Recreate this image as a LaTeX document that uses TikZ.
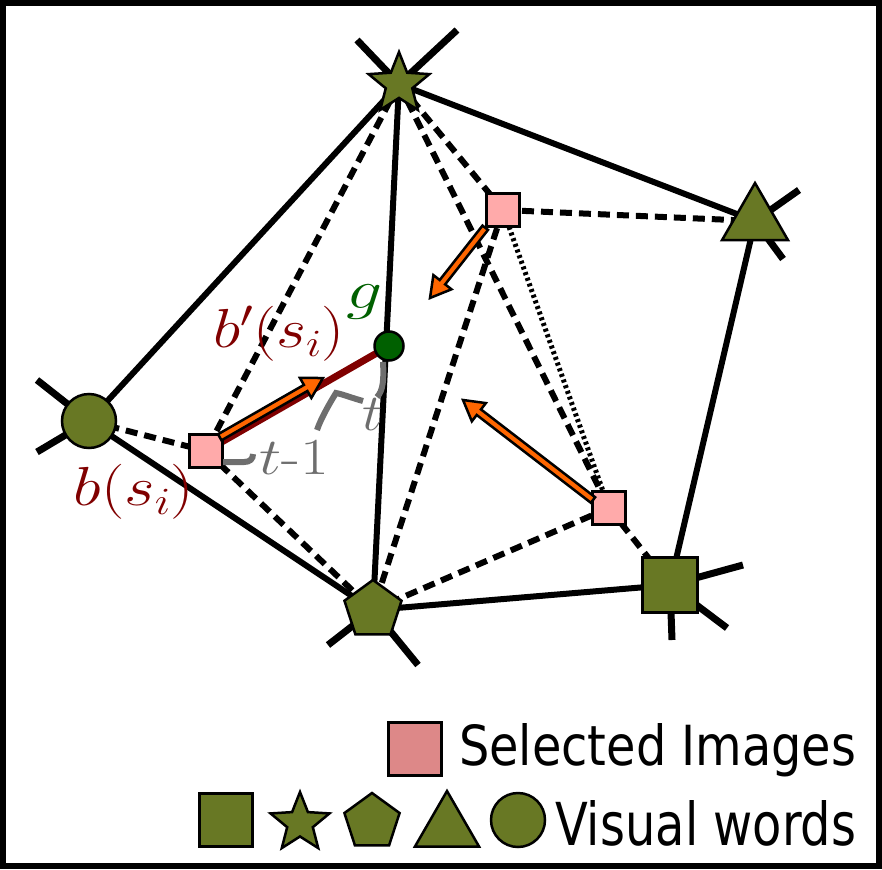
\RequirePackage{fix-cm}
\documentclass[tikz,border=0pt]{standalone}
\usepackage{fontspec}
\setsansfont{DejaVu Sans}
\usetikzlibrary{shapes.geometric,calc}
\definecolor{vwgreen}{RGB}{104,120,36}
\definecolor{imgpink}{RGB}{255,170,170}
\definecolor{legpink}{RGB}{221,136,136}
\definecolor{redlab}{RGB}{128,0,0}
\definecolor{glab}{RGB}{0,96,0}
\definecolor{arcgrey}{RGB}{110,110,110}
\definecolor{arrorange}{RGB}{255,102,0}
\pgfdeclarelayer{bg}
\pgfsetlayers{bg,main}
\tikzset{
  vw/.style={draw=black, fill=vwgreen, line width=2.5pt, inner sep=0pt},
  img/.style={draw=black, fill=imgpink, line width=2.5pt, minimum size=33pt, inner sep=0pt},
  solidedge/.style={line width=6pt},
  dashedge/.style={line width=6pt, dash pattern=on 12pt off 7pt},
  dotedge/.style={line width=5pt, dash pattern=on 3pt off 3pt},
  stubline/.style={line width=7pt},
  redline/.style={line width=7pt, draw=redlab},
  arcline/.style={line width=6pt, draw=arcgrey},
  orarr/.style={draw=black, fill=arrorange, line width=2.5pt, line join=miter},
  biglab/.style={inner sep=0pt, font=\fontsize{55}{58}\selectfont},
  tlab/.style={inner sep=0pt, font=\fontsize{52}{55}\selectfont},
}
\newcommand{\orarrow}[2]{%
  \draw[orarr] let \p1=($(#2)-(#1)$), \n1={atan2(\y1,\x1)}, \n2={veclen(\x1,\y1)-20} in
    ($(#1)+(\n1+90:3.5pt)$) -- ($(#1)+(\n1:\n2)+(\n1+90:3.5pt)$) --
    ($(#1)+(\n1:\n2)+(\n1+90:11.5pt)$) -- (#2) --
    ($(#1)+(\n1:\n2)+(\n1-90:11.5pt)$) -- ($(#1)+(\n1:\n2)+(\n1-90:3.5pt)$) --
    ($(#1)+(\n1-90:3.5pt)$) -- cycle;}
\begin{document}
\begin{tikzpicture}[x=1pt,y=-1pt]
\useasboundingbox (0,0) rectangle (882,869);
\draw[line width=6pt] (3,3) rectangle (879,866);

% visual words
\node[vw,star,star points=5,star point ratio=2.3,minimum size=64pt] (star) at (399,84) {};
\node[vw,circle,minimum size=54pt] (circ) at (89,421) {};
\node[vw,regular polygon,regular polygon sides=5,minimum size=60pt] (pent) at (373,610) {};
\node[vw,rectangle,minimum size=55pt] (sq) at (670,585) {};
\node[vw,regular polygon,regular polygon sides=3,minimum size=76pt] (tri) at (755,221) {};
% selected images
\node[img] (p1) at (206,451) {};
\node[img] (p2) at (503,210) {};
\node[img] (p3) at (609,508) {};
\node[draw=black, fill=glab, line width=2.5pt, circle, minimum size=29pt, inner sep=0pt] (g) at (389,346) {};

% stub ends
\coordinate (s1) at (357,40);
\coordinate (s2) at (457,30);
\coordinate (c1) at (37,380);
\coordinate (c2) at (37,452);
\coordinate (pe1) at (328,645);
\coordinate (pe2) at (418,665);
\coordinate (q1) at (743,565);
\coordinate (q2) at (727,628);
\coordinate (q3) at (672,640);
\coordinate (t1) at (799,190);
\coordinate (t2) at (783,259);

\begin{pgfonlayer}{bg}
  \draw[stubline] (star.center) -- (s1) (star.center) -- (s2)
    (circ.center) -- (c1) (circ.center) -- (c2)
    (pent.center) -- (pe1) (pent.center) -- (pe2)
    (sq.center) -- (q1) (sq.center) -- (q2) (sq.center) -- (q3)
    (tri.center) -- (t1) (tri.center) -- (t2);
  \draw[solidedge] (star.center) -- (circ.center);
  \draw[solidedge] (star.center) -- (tri.center);
  \draw[solidedge] (star.center) -- (pent.center);
  \draw[solidedge] (circ.center) -- (pent.center);
  \draw[solidedge] (pent.center) -- (sq.center);
  \draw[solidedge] (tri.center) -- (sq.center);
  \draw[dashedge] (star.center) -- (p1.center);
  \draw[dashedge] (star.center) -- (p2.center);
  \draw[dashedge] (star.center) -- (p3.center);
  \draw[dashedge] (p2.center) -- (tri.center);
  \draw[dashedge] (p2.center) -- (pent.center);
  \draw[dashedge] (p3.center) -- (pent.center);
  \draw[dashedge] (p3.center) -- (sq.center);
  \draw[dashedge] (circ.center) -- (p1.center);
  \draw[dashedge] (p1.center) -- (pent.center);
  \draw[dotedge] (p2.center) -- (p3.center);
  \draw[redline] (p1.center) -- (g.center);
\end{pgfonlayer}

% angle marks
\draw[arcline] (383,362) .. controls (384,380) and (383,391) .. (377,397);
\draw[arcline] (363,401) .. controls (352,398) and (342,394) .. (336,393)
   .. controls (331,401) and (321,418) .. (317,430);
\draw[arcline] (223,462) -- (244,462) .. controls (250,462) and (253,459) .. (253,454);

% orange arrows
\coordinate (a1s) at ($(p1.north east)+(-4,4)$);
\coordinate (a1t) at (323,378);
\coordinate (a2s) at (p2.south west);
\coordinate (a2t) at (430,298);
\coordinate (a3s) at (593,500);
\coordinate (a3t) at (463,400);
\orarrow{a1s}{a1t}
\orarrow{a2s}{a2t}
\orarrow{a3s}{a3t}

% labels
\node[biglab, text=redlab] (bpl) at (279,334) {\scalebox{1.18}[1]{$b'(s_i)$}};
\node[biglab, text=redlab] (bl) at (134,492) {\scalebox{1.2}[1]{$b(s_i)$}};
\node[biglab, text=glab] (gl) at (365,302) {\scalebox{1.3}[1]{$g$}};
\node[tlab, text=arcgrey] (tml) at (294,457) {\scalebox{1.2}[1]{$t$-1}};
\node[tlab, text=arcgrey] (tl) at (373,415) {\scalebox{1.1}[1]{$t$}};

% legend
\node[draw=black, fill=legpink, line width=2.5pt, minimum size=53pt, inner sep=0pt] (lp) at (415,749) {};
\node[anchor=base west, inner sep=0pt] (lpt) at (459,765) {\sffamily\resizebox{397pt}{42pt}{Selected Images}};
\node[vw,rectangle,minimum size=53pt] (lsq) at (226,820) {};
\node[vw,star,star points=5,star point ratio=2.3,minimum size=62pt] (lstar) at (300,823) {};
\node[vw,regular polygon,regular polygon sides=5,minimum size=58pt] (lpent) at (372,822) {};
\node[vw,regular polygon,regular polygon sides=3,minimum size=74pt] (ltri) at (447,828) {};
\node[vw,circle,minimum size=54pt] (lcirc) at (518,820) {};
\node[anchor=base west, inner sep=0pt] (lvt) at (555,845) {\sffamily\resizebox{301pt}{45pt}{Visual words}};
\end{tikzpicture}
\end{document}
